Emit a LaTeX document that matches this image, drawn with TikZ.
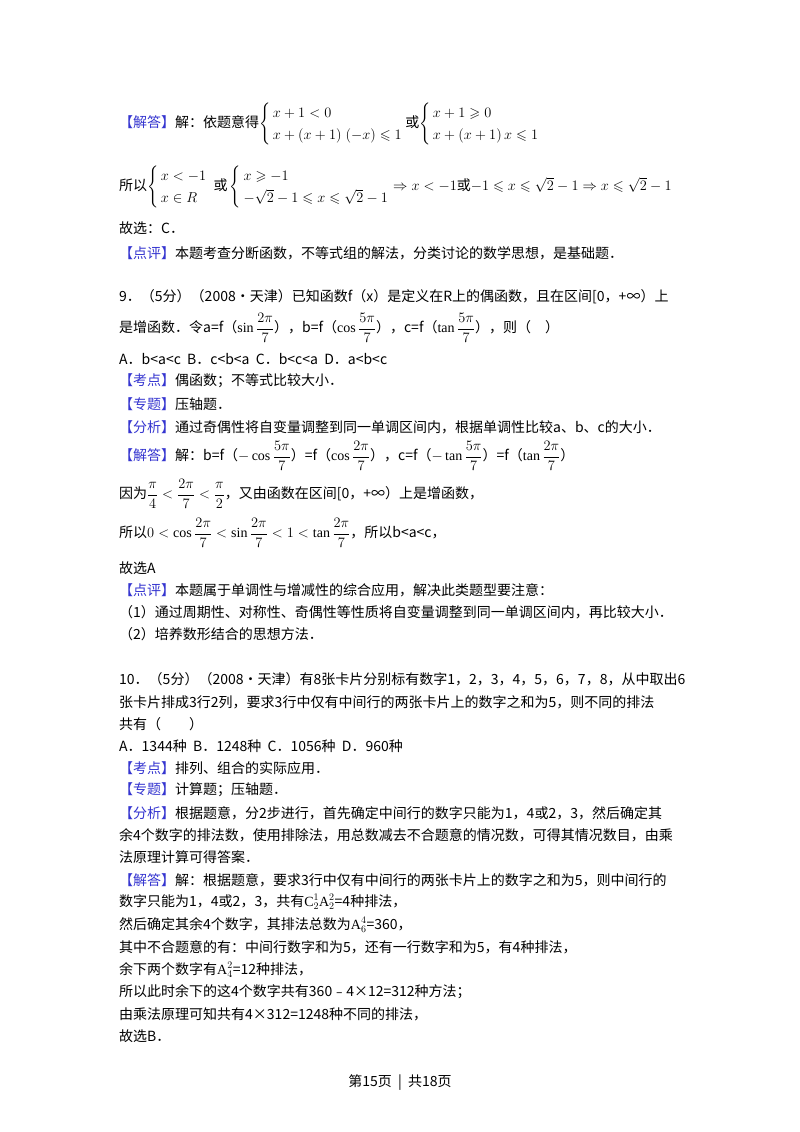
\documentclass[tikz,border=0pt]{standalone}
\usepackage{amsmath,amssymb}
\usepackage{fontspec}
\setmainfont{Liberation Serif}
\newfontfamily\cjk{Noto Sans CJK SC}
\definecolor{bk}{HTML}{3535D0}
\newcommand{\bk}[1]{{\color{bk}【#1】}}
\newcommand{\cs}[1]{\left\{\renewcommand{\arraystretch}{1.3}\begin{array}{@{\,}l@{}}#1\end{array}\right.}
\begin{document}
\begin{tikzpicture}[x=1pt,y=-1pt,
  ln/.style={anchor=west,inner sep=0pt,font=\cjk\fontsize{14}{17}\selectfont}]
\useasboundingbox[fill=white] (0,0) rectangle (800,1132);
\node[ln] (l1) at (119,124) {\bk{解答}解：依题意得$\cs{x+1<0\\ x+(x+1)\;(-x)\leqslant 1}$\,或$\cs{x+1\geqslant 0\\ x+(x+1)\,x\leqslant 1}$};
\node[ln] (l2) at (119,187) {所以$\cs{x<-1\\ x\in R}$\ \ 或\,$\cs{x\geqslant -1\\ -\sqrt{2}-1\leqslant x\leqslant\sqrt{2}-1}\Rightarrow x<-1$或$-1\leqslant x\leqslant\sqrt{2}-1\Rightarrow x\leqslant\sqrt{2}-1$};
\node[ln] (l3) at (119,228) {故选：C．};
\node[ln] (l4) at (119,253) {\bk{点评}本题考查分断函数，不等式组的解法，分类讨论的数学思想，是基础题．};
\node[ln] (l5) at (119,297) {9．（5分）（2008•天津）已知函数f（x）是定义在R上的偶函数，且在区间[0，+∞）上};
\node[ln] (l6) at (119,328) {是增函数．令a=f（$\sin\dfrac{2\pi}{7}$），b=f（$\cos\dfrac{5\pi}{7}$），c=f（$\tan\dfrac{5\pi}{7}$），则（\quad）};
\node[ln] (l7) at (119,359) {A．b<a<c\ \ B．c<b<a\ \ C．b<c<a\ \ D．a<b<c};
\node[ln] (l8) at (119,381) {\bk{考点}偶函数；不等式比较大小．};
\node[ln] (l9) at (119,404) {\bk{专题}压轴题．};
\node[ln] (l10) at (119,427) {\bk{分析}通过奇偶性将自变量调整到同一单调区间内，根据单调性比较a、b、c的大小．};
\node[ln] (l11) at (119,456) {\bk{解答}解：b=f（$-\cos\dfrac{5\pi}{7}$）=f（$\cos\dfrac{2\pi}{7}$），c=f（$-\tan\dfrac{5\pi}{7}$）=f（$\tan\dfrac{2\pi}{7}$）};
\node[ln] (l12) at (119,494) {因为$\dfrac{\pi}{4}<\dfrac{2\pi}{7}<\dfrac{\pi}{2}$，又由函数在区间[0，+∞）上是增函数，};
\node[ln] (l13) at (119,533) {所以$0<\cos\dfrac{2\pi}{7}<\sin\dfrac{2\pi}{7}<1<\tan\dfrac{2\pi}{7}$，所以b<a<c，};
\node[ln] (l14) at (119,568) {故选A};
\node[ln] (l15) at (119,590) {\bk{点评}本题属于单调性与增减性的综合应用，解决此类题型要注意：};
\node[ln] (l16) at (119,612) {（1）通过周期性、对称性、奇偶性等性质将自变量调整到同一单调区间内，再比较大小．};
\node[ln] (l17) at (119,634) {（2）培养数形结合的思想方法．};
\node[ln] (l18) at (119,679) {10．（5分）（2008•天津）有8张卡片分别标有数字1，2，3，4，5，6，7，8，从中取出6};
\node[ln] (l19) at (119,702) {张卡片排成3行2列，要求3行中仅有中间行的两张卡片上的数字之和为5，则不同的排法};
\node[ln] (l20) at (119,724) {共有（\qquad）};
\node[ln] (l21) at (119,746) {A．1344种\ \ B．1248种\ \ C．1056种\ \ D．960种};
\node[ln] (l22) at (119,768) {\bk{考点}排列、组合的实际应用．};
\node[ln] (l23) at (119,790) {\bk{专题}计算题；压轴题．};
\node[ln] (l24) at (119,813) {\bk{分析}根据题意，分2步进行，首先确定中间行的数字只能为1，4或2，3，然后确定其};
\node[ln] (l25) at (119,835) {余4个数字的排法数，使用排除法，用总数减去不合题意的情况数，可得其情况数目，由乘};
\node[ln] (l26) at (119,857) {法原理计算可得答案．};
\node[ln] (l27) at (119,880) {\bk{解答}解：根据题意，要求3行中仅有中间行的两张卡片上的数字之和为5，则中间行的};
\node[ln] (l28) at (119,902) {数字只能为1，4或2，3，共有$\mathrm{C}_2^1\mathrm{A}_2^2$=4种排法，};
\node[ln] (l29) at (119,925) {然后确定其余4个数字，其排法总数为$\mathrm{A}_6^4$=360，};
\node[ln] (l30) at (119,947) {其中不合题意的有：中间行数字和为5，还有一行数字和为5，有4种排法，};
\node[ln] (l31) at (119,970) {余下两个数字有$\mathrm{A}_4^2$=12种排法，};
\node[ln] (l32) at (119,992) {所以此时余下的这4个数字共有360﹣4×12=312种方法；};
\node[ln] (l33) at (119,1014) {由乘法原理可知共有4×312=1248种不同的排法，};
\node[ln] (l34) at (119,1036) {故选B．};
\node[ln,anchor=center] (ft) at (400,1083) {第15页\ \ |\ \ 共18页};
\end{tikzpicture}
\end{document}
